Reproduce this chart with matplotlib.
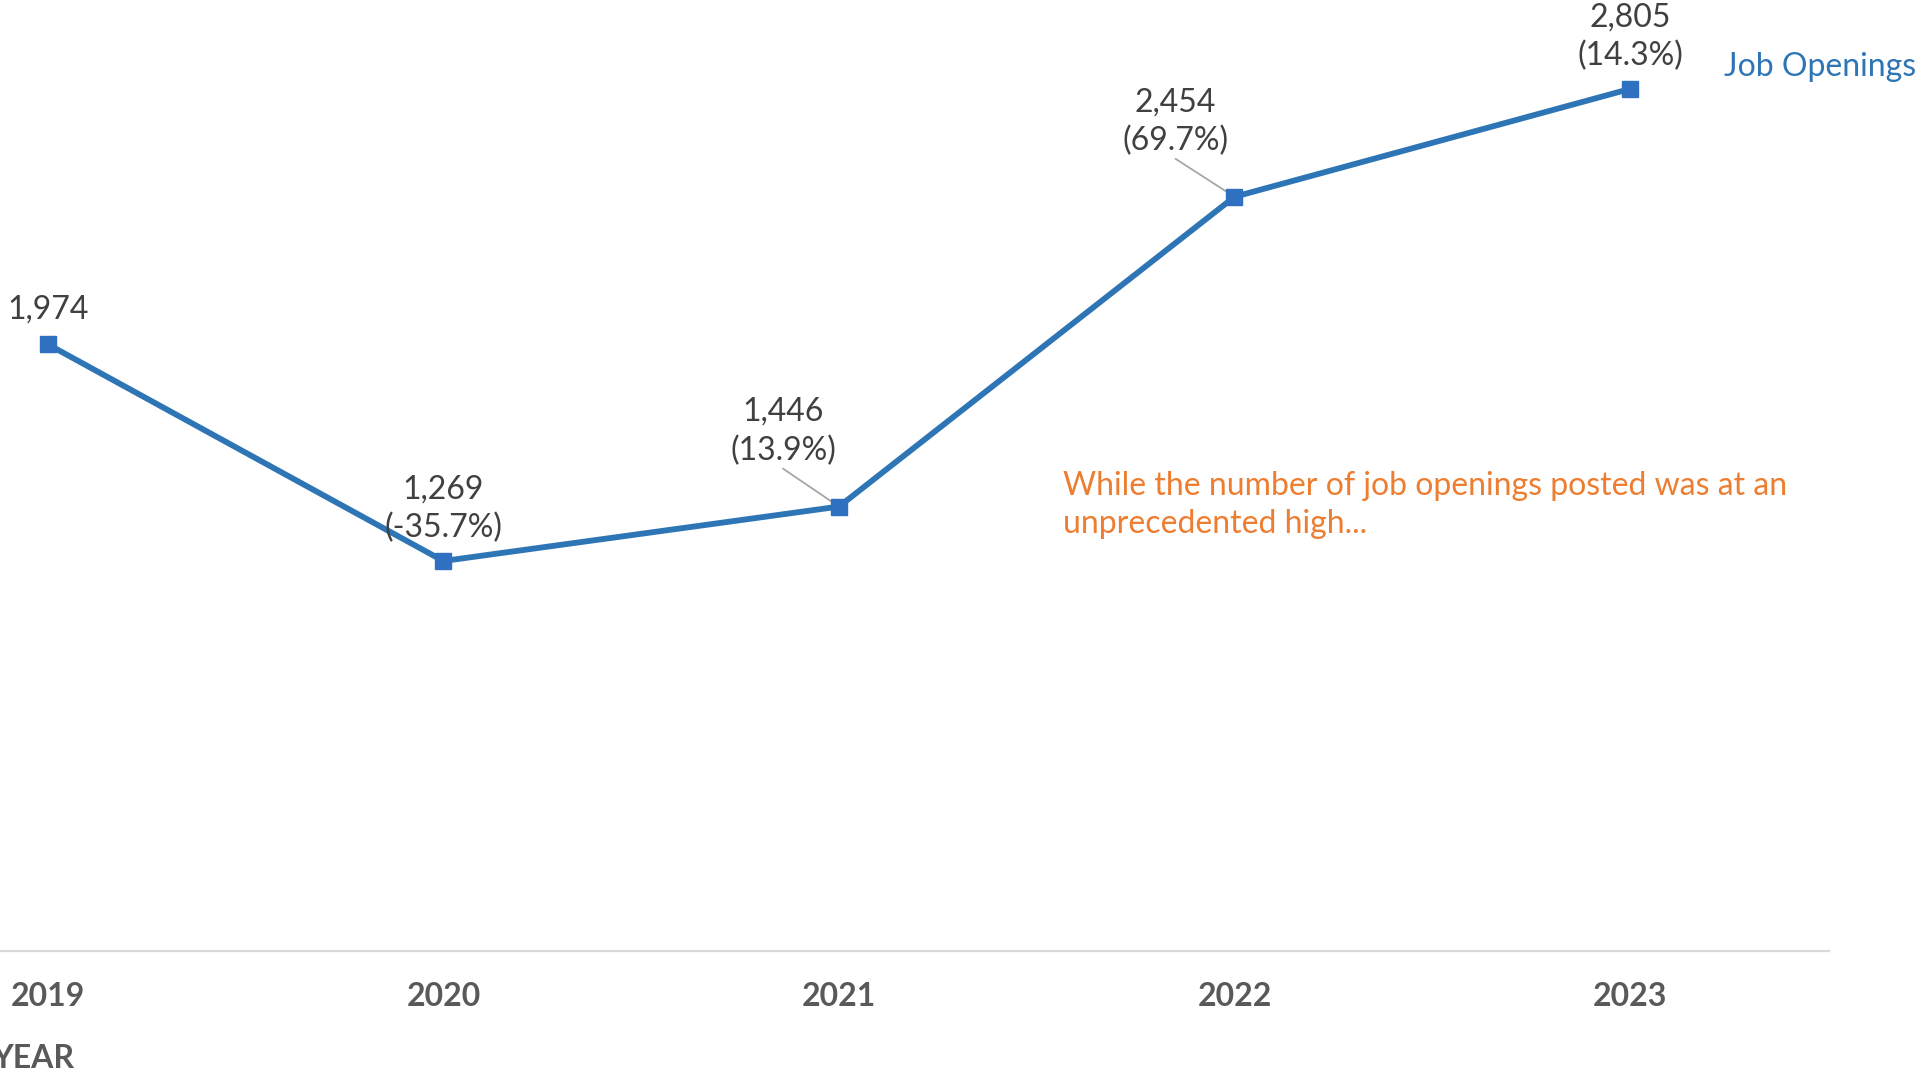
import matplotlib
matplotlib.use('Agg')
import matplotlib.pyplot as plt

# Job openings per year, with year-over-year change
years = [2019, 2020, 2021, 2022, 2023]
openings = [1974, 1269, 1446, 2454, 2805]
pct_change = [None, -35.7, 13.9, 69.7, 14.3]

# label offsets from the marker, in pixels (dx, dy)
label_offsets = [(0, 35), (0, 52), (-56, 75), (-59, 75), (0, 52)]
# start of the grey leader line, relative to the marker (None = no leader)
leader_starts = [None, None, (-56, 38), (-59, 38), None]

BLUE = '#2E75B6'
ORANGE = '#ED7D31'
TEXT = '#404040'
AXIS_TEXT = '#595959'
FS = 23

plt.rcParams['font.family'] = ['Lato', 'DejaVu Sans']

fig = plt.figure(figsize=(19.21, 10.73), dpi=100)
# axes placed so the baseline sits at y=951px and 3000 maps to y=29px
ax = fig.add_axes([0.0, 1 - 951 / 1073, 1829 / 1921, (951 - 29) / 1073])
ax.set_xlim(2018.879, 2023.503)
ax.set_ylim(0, 3000)

ax.plot(years, openings, color=BLUE, lw=4.2, marker='s', markersize=11,
        markerfacecolor='#3070C0', markeredgecolor='#3070C0', zorder=3,
        clip_on=False)

for yr, val, pct, (dx, dy), lead in zip(years, openings, pct_change,
                                         label_offsets, leader_starts):
    label = f'{val:,}' if pct is None else f'{val:,}\n({pct}%)'
    ax.annotate(label, xy=(yr, val), xytext=(dx, dy),
                textcoords='offset pixels', ha='center', va='center',
                fontsize=FS, color=TEXT, linespacing=1.36, zorder=4)
    if lead is not None:
        ax.annotate('', xy=(yr, val), xytext=lead, textcoords='offset pixels',
                    arrowprops=dict(arrowstyle='-', color='#A6A6A6', lw=1.3,
                                    shrinkA=0, shrinkB=0), zorder=2)

# series name at the end of the line
ax.annotate('Job Openings', xy=(years[-1], openings[-1]), xytext=(94, 22),
            textcoords='offset pixels', ha='left', va='center',
            fontsize=FS, color=BLUE, annotation_clip=False)

fig.text(1063 / 1921, 1 - 505 / 1073,
         'While the number of job openings posted was at an\nunprecedented high...',
         ha='left', va='center', fontsize=FS, color=ORANGE, linespacing=1.36)

# axes styling
for side in ['top', 'right', 'left']:
    ax.spines[side].set_visible(False)
ax.spines['bottom'].set_color('#D9D9D9')
ax.spines['bottom'].set_linewidth(1.6)
ax.set_yticks([])
ax.set_xticks(years)
ax.set_xticklabels([str(y) for y in years], fontsize=FS, fontweight='bold',
                   color=AXIS_TEXT)
ax.tick_params(axis='x', length=0, pad=22)

# axis title, partly cut off at the left edge as in the original
fig.text(-8 / 1921, 1 - 1059 / 1073, 'YEAR', ha='left', va='center',
         fontsize=FS, fontweight='bold', color=AXIS_TEXT)

fig.savefig('out.png', dpi=100)
